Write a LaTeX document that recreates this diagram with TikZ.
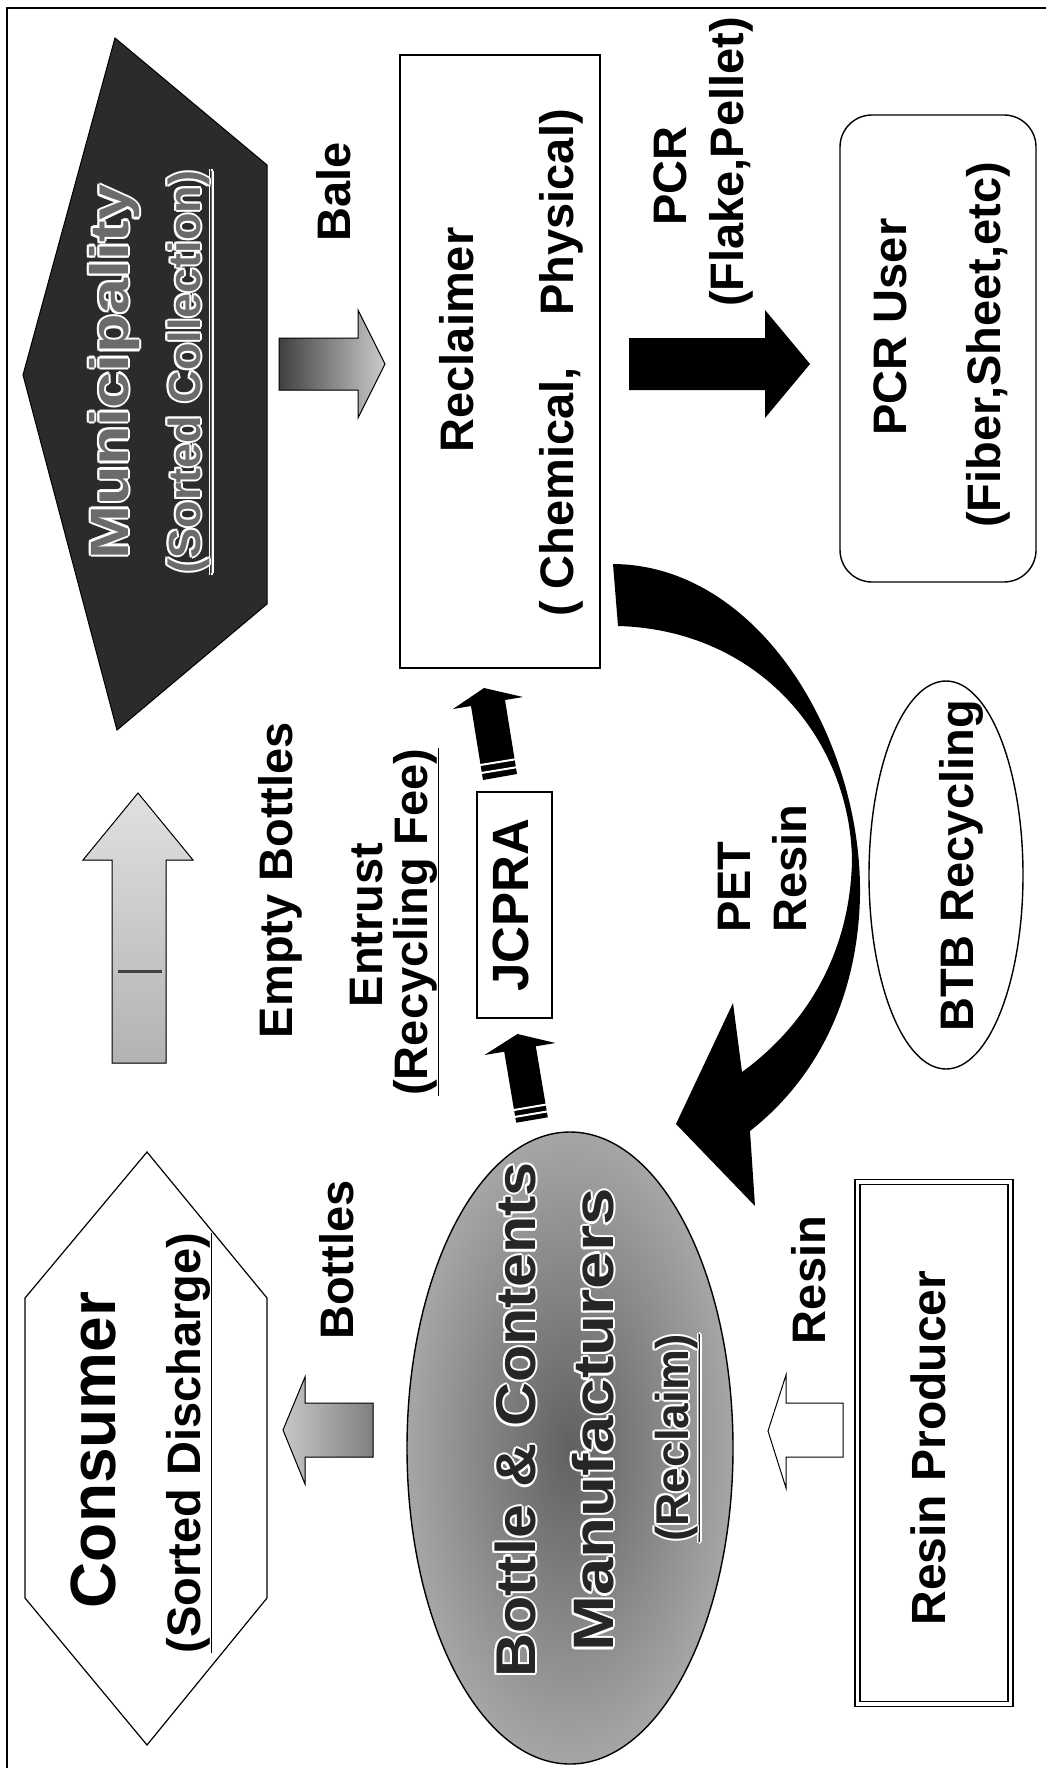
\documentclass[tikz,border=0pt]{standalone}
\usepackage{fontspec}
\usepackage{graphicx}
\setmainfont{Liberation Sans}
\usetikzlibrary{shapes.geometric}

% white halo around a text, drawn as shifted copies beneath it
\newcommand{\hcopy}[3]{\makebox[0pt][l]{\hspace*{#1}\raisebox{#2}{\textcolor{white}{#3}}}}
\newcommand{\outlined}[2]{%
  \hcopy{2pt}{0pt}{#2}\hcopy{-2pt}{0pt}{#2}%
  \hcopy{0pt}{2pt}{#2}\hcopy{0pt}{-2pt}{#2}%
  \hcopy{1.4pt}{1.4pt}{#2}\hcopy{-1.4pt}{1.4pt}{#2}%
  \hcopy{1.4pt}{-1.4pt}{#2}\hcopy{-1.4pt}{-1.4pt}{#2}%
  \textcolor{#1}{#2}}
\newcommand{\fs}[1]{\fontsize{#1}{#1}\selectfont}

\definecolor{darkfill}{gray}{0.17}

\tikzset{
  lbl/.style={rotate=90, inner sep=0pt, anchor=base, font=\bfseries\fs{47}},
  boxline/.style={draw=black, line width=1.6pt},
  blockarrow/.style={draw=black, line width=1pt},
  stripe/.style={draw=white, line width=2pt},
}

\begin{document}
\begin{tikzpicture}[x=1pt, y=-1pt]
\useasboundingbox (0,0) rectangle (1046,1768);
\fill[white] (0,0) rectangle (1046,1768);

% frame
\draw[line width=1.8pt] (7,1768) -- (7,8) -- (1046,8);

% ---------------- Municipality ----------------
\filldraw[fill=darkfill, draw=black, line width=1pt]
  (115,38) -- (267,165) -- (267,604) -- (117,730) -- (23,375) -- cycle;
\node[lbl, font=\bfseries\fs{54}] (muni) at (128,372)
  {\scalebox{1.2}[1]{\outlined{black!58}{Municipality}}};
\node[lbl, font=\bfseries\fs{45}] (muniSub) at (200,372)
  {\outlined{black!58}{\underline{(Sorted Collection)}}};

% bale arrow
\filldraw[blockarrow, left color=black!75, right color=black!20]
  (279,338) -- (358,338) -- (358,310) -- (385,364) -- (358,418) -- (358,390) -- (279,390) -- cycle;
\node[lbl] (bale) at (350,192) {Bale};

% ---------------- Reclaimer ----------------
\draw[boxline] (400,55) rectangle (600,668);
\node[lbl] (recl) at (473,340) {Reclaimer};
\node[lbl] (reclSub) at (573,363) {(\hspace{0.25em}Chemical,\hspace{1.1em}Physical)};

% PCR arrow
\fill[black] (629,338) -- (765,338) -- (765,310) -- (810,364) -- (765,418) -- (765,390) -- (629,390) -- cycle;
\node[lbl] (pcr) at (686,176) {PCR};
\node[lbl] (pcrSub) at (743,162) {(Flake,Pellet)};

% PCR user
\draw[draw=black, line width=1.4pt, rounded corners=32pt] (840,115) rectangle (1036,582);
\node[lbl] (user) at (906,327) {PCR User};
\node[lbl] (userSub) at (1000,345) {(Fiber,Sheet,etc)};

% ---------------- empty bottles ----------------
\filldraw[blockarrow, top color=black!12, bottom color=black!30]
  (112,1063) -- (112,860) -- (83,860) -- (138,793) -- (193,860) -- (166,860) -- (166,1063) -- cycle;
\draw[black!75, line width=3pt] (118,971) -- (162,971);
\node[lbl] (empty) at (292,880) {Empty Bottles};
\node[lbl] (entrust) at (382,925) {Entrust};
\node[lbl] (fee) at (427,922) {\underline{(Recycling Fee)}};

% JCPRA and its striped arrows
\draw[boxline] (477,792) rectangle (552,1018);
\node[lbl, font=\bfseries\fs{51}] (jcpra) at (528,905) {JCPRA};

\fill[black] (483,780) -- (471,706) -- (453,709) -- (484,688) -- (523,697) -- (505,700) -- (517,774) -- cycle;
\draw[stripe] (481.1,773.0) -- (516.7,767.2);
\draw[stripe] (479.8,765.1) -- (515.4,759.3);

\fill[black] (516.2,1122.7) -- (504.2,1051.7) -- (484.5,1055) -- (517.5,1034) -- (555.5,1043) -- (535.8,1046.3) -- (547.8,1117.3) -- cycle;
\draw[stripe] (514.5,1117.0) -- (548.1,1111.3);
\draw[stripe] (513.3,1110.1) -- (546.9,1104.4);

% ---------------- PET resin loop ----------------
\fill[black] (613,564) .. controls (760,565) and (862,740) .. (860,895)
  .. controls (858,1000) and (815,1080) .. (750,1131)
  -- (755,1206) -- (676,1124) -- (733,1003) -- (742,1072)
  .. controls (800,1030) and (850,960) .. (852,860)
  .. controls (850,740) and (760,630) .. (618,626) -- cycle;
\node[lbl, anchor=base west] (pet) at (750,933) {PET};
\node[lbl, anchor=base west] (petResin) at (806,933) {Resin};

% BTB recycling
\draw[line width=1.4pt] (946,875) ellipse [x radius=77pt, y radius=194pt];
\node[lbl] (btb) at (973,866) {BTB Recycling};

% ---------------- Consumer ----------------
\draw[line width=1.2pt] (147,1152) -- (267,1298) -- (267,1598) -- (147,1745) -- (25,1598) -- (25,1298) -- cycle;
\node[lbl, font=\bfseries\fs{64}] (consumer) at (115,1450) {Consumer};
\node[lbl] (consumerSub) at (200,1443) {\underline{(Sorted Discharge)}};

% bottles arrow
\filldraw[blockarrow, left color=black!22, right color=black!50]
  (373,1403) -- (305,1403) -- (305,1377) -- (283,1430) -- (305,1484) -- (305,1457) -- (373,1457) -- cycle;
\node[lbl] (bottles) at (353,1260) {Bottles};

% ---------------- Bottle & contents manufacturers ----------------
\shade[inner color=black!62, outer color=black!35] (570,1448) ellipse [x radius=163pt, y radius=316pt];
\draw[line width=1.4pt] (570,1448) ellipse [x radius=163pt, y radius=316pt];
\node[lbl, font=\bfseries\fs{56}] (bcm1) at (535,1420)
  {\scalebox{1.09}[1]{\outlined{black!85}{Bottle \& Contents}}};
\node[lbl, font=\bfseries\fs{57}] (bcm2) at (613,1420)
  {\scalebox{1.18}[1]{\outlined{black!85}{Manufacturers}}};
\node[lbl, font=\bfseries\fs{46}] (bcm3) at (688,1438)
  {\outlined{black!85}{\underline{(Reclaim)}}};

% ---------------- Resin producer ----------------
\filldraw[fill=white, draw=black, line width=1pt]
  (843,1403) -- (786,1403) -- (786,1375) -- (768,1431) -- (786,1488) -- (786,1457) -- (843,1457) -- cycle;
\node[lbl] (resin) at (825,1280) {Resin};
\draw[draw=black, line width=1.3pt, double, double distance=3.5pt] (857.5,1182) rectangle (1010.5,1704);
\node[lbl, font=\bfseries\fs{48}] (producer) at (945,1448) {Resin Producer};
\end{tikzpicture}
\end{document}
